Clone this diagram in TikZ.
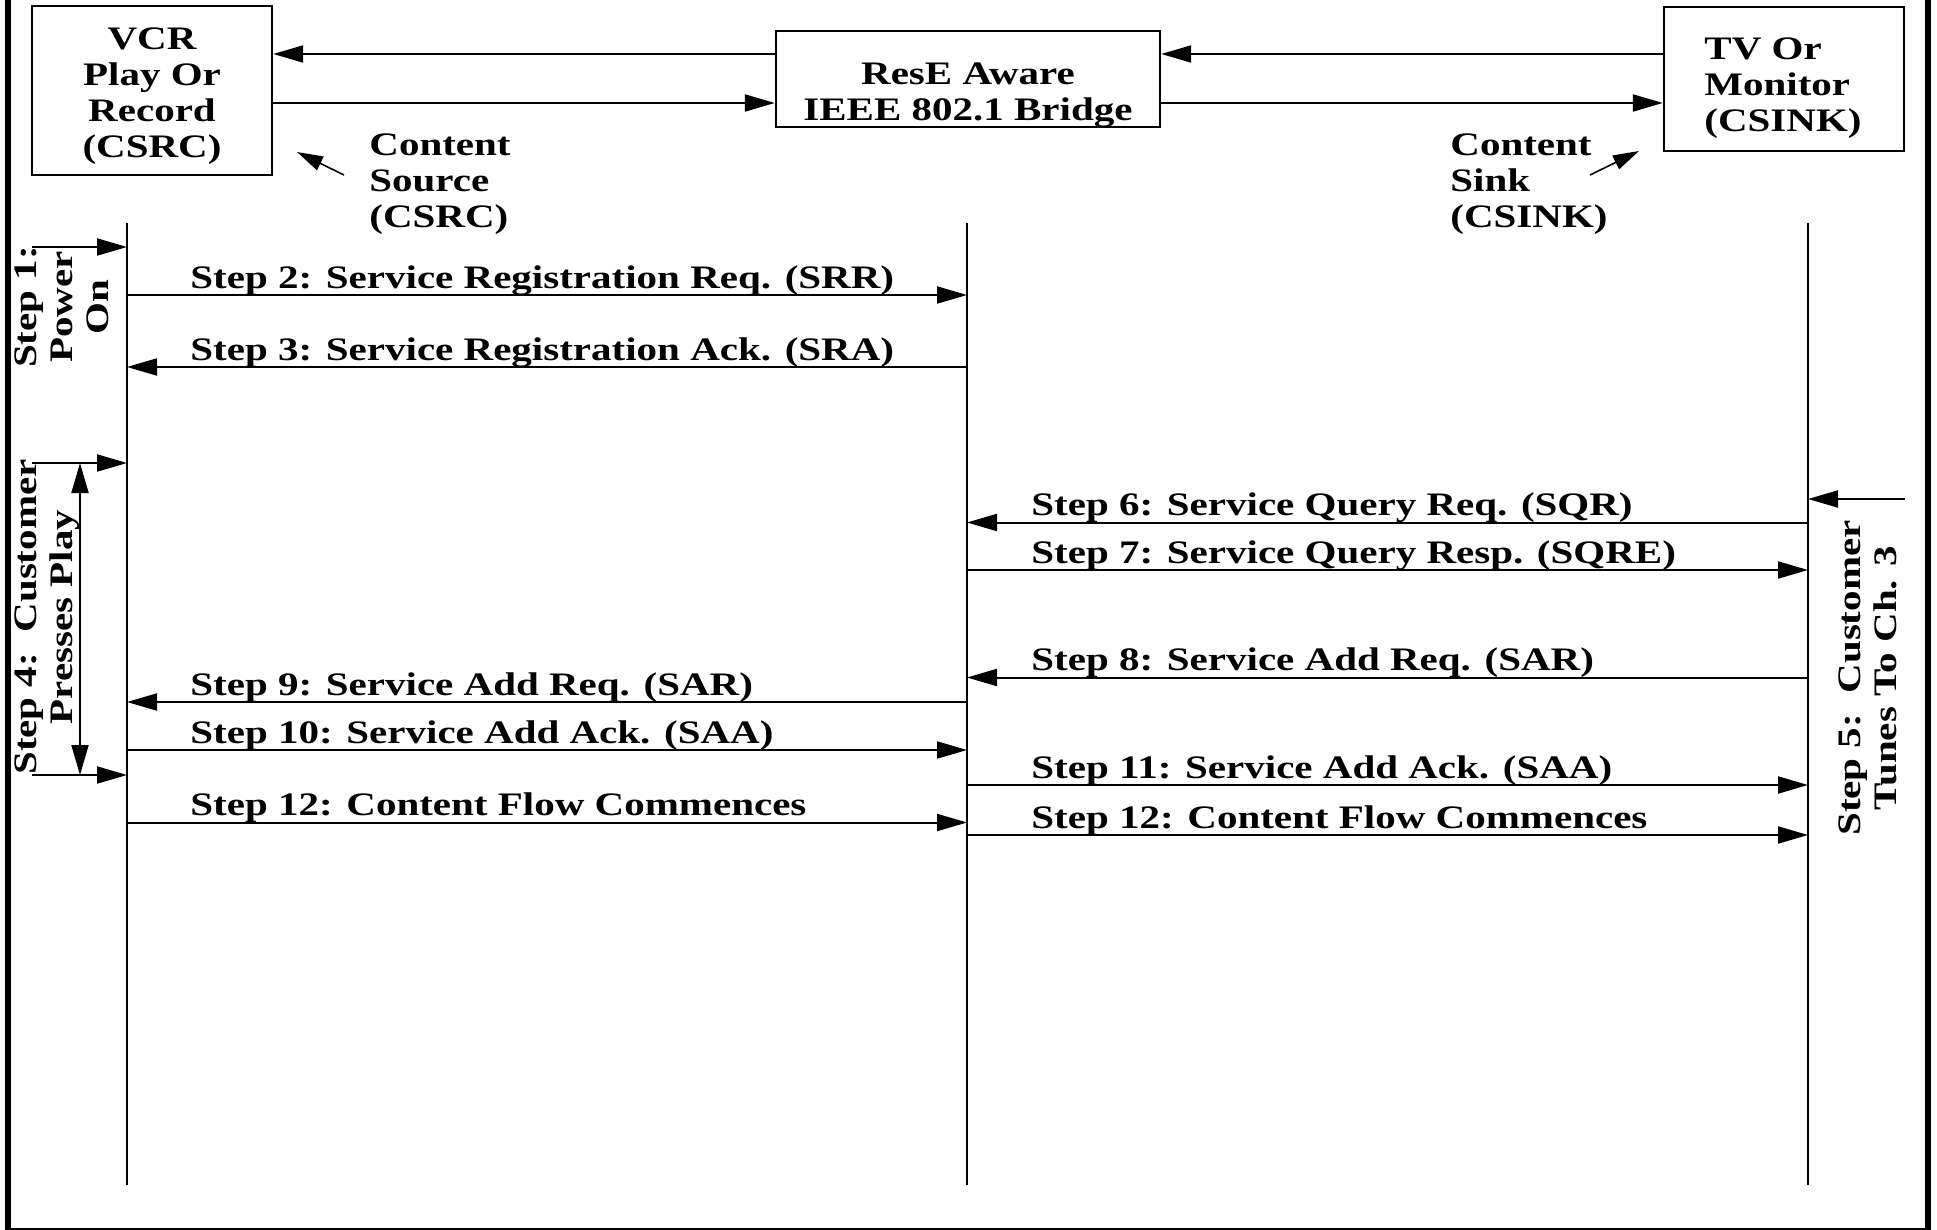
\documentclass[tikz,border=0pt]{standalone}
\usepackage{fontspec}
\setmainfont{Liberation Serif}[FakeStretch=1.25]
\usetikzlibrary{arrows.meta}

\begin{document}
\begin{tikzpicture}[x=0.5pt,y=-0.5pt,>={Triangle[length=15pt,width=8.5pt]}]
			\tikzstyle{every node}+=[inner sep=0pt,font=\fontsize{16.4pt}{18pt}\selectfont\bfseries]
			\tikzstyle{box}=[draw=black,line width=1.2pt]
			\tikzstyle{msg}=[black,line width=1pt,->]
			\tikzstyle{life}=[black,line width=0.8pt]
			\tikzstyle{hint}=[black,line width=0.8pt,-{Triangle[length=13pt,width=7.5pt]}]
			\tikzstyle{note}=[align=left,anchor=west]
			\tikzstyle{stepl}=[anchor=base west]
			\tikzstyle{turned}=[rotate=90,align=center]
			\useasboundingbox (0,0) rectangle (1937,1230);
			\draw [black,line width=3pt] (8,0) -- (8,1228.5);
			\draw [black,line width=3pt] (1928,0) -- (1928,1228.5);
			\draw [black,line width=1pt] (5,1228.5) -- (1931,1228.5);
			\node [box,minimum width=120pt,minimum height=84.5pt] (vcr) at (152,90.5) {};
			\node [align=center] (vcrtext) at (152,96) {VCR\\Play Or\\Record\\(CSRC)};
			\node [box,minimum width=192pt,minimum height=48pt] (bridge) at (968,79) {};
			\node [align=center] (bridgetext) at (968,95) {ResE Aware\\IEEE 802.1 Bridge};
			\node [box,minimum width=120pt,minimum height=72pt] (tv) at (1784,79) {};
			\node [align=left,anchor=west] (tvtext) at (1704,88) {TV Or\\Monitor\\(CSINK)};
			\coordinate (ya) at (0,54);
			\coordinate (yb) at (0,103);
			\draw [msg] (bridge.west |- ya) -- (vcr.east |- ya);
			\draw [msg] (vcr.east |- yb) -- (bridge.west |- yb);
			\draw [msg] (tv.west |- ya) -- (bridge.east |- ya);
			\draw [msg] (bridge.east |- yb) -- (tv.west |- yb);
			\node [note] (srcnote) at (369,184) {Content\\Source\\(CSRC)};
			\node [note] (snknote) at (1450,184) {Content\\Sink\\(CSINK)};
			\coordinate (srchint) at (344,175);
			\coordinate (srcpoint) at (297,152);
			\coordinate (snkhint) at (1590,175);
			\coordinate (snkpoint) at (1639,151);
			\draw [hint] (srchint) -- (srcpoint);
			\draw [hint] (snkhint) -- (snkpoint);
			\coordinate (srcT) at (127,223);
			\coordinate (srcB) at (127,1185);
			\coordinate (brT) at (967,223);
			\coordinate (brB) at (967,1185);
			\coordinate (snkT) at (1808,223);
			\coordinate (snkB) at (1808,1185);
			\draw [life] (srcT) -- (srcB);
			\draw [life] (brT) -- (brB);
			\draw [life] (snkT) -- (snkB);
			\coordinate (m1) at (32,247);
			\draw [msg] (m1) -- (srcT |- m1);
			\node [turned] (t1) at (62,307) {Step 1:\\Power\\On};
			\coordinate (m2) at (0,295);
			\draw [msg] (srcT |- m2) -- (brT |- m2);
			\node [stepl] (t2) at (190,288) {Step 2: Service Registration Req. (SRR)};
			\coordinate (m3) at (0,367);
			\draw [msg] (brT |- m3) -- (srcT |- m3);
			\node [stepl] (t3) at (190,360) {Step 3: Service Registration Ack. (SRA)};
			\coordinate (m4a) at (32,463);
			\coordinate (m4b) at (32,775);
			\draw [msg] (m4a) -- (srcT |- m4a);
			\draw [msg] (m4b) -- (srcT |- m4b);
			\coordinate (d4a) at (80,463);
			\coordinate (d4b) at (80,775);
			\draw [msg,<->] (d4a) -- (d4b);
			\node [turned] (t4) at (47,617) {Step 4:\ \ Customer\\Presses Play};
			\coordinate (m5) at (1905,499);
			\draw [msg] (m5) -- (snkT |- m5);
			\node [turned] (t5) at (1868,678) {Step 5:\ \ Customer\\Tunes To Ch. 3};
			\coordinate (m6) at (0,522.5);
			\draw [msg] (snkT |- m6) -- (brT |- m6);
			\node [stepl] (t6) at (1031,515.5) {Step 6: Service Query Req. (SQR)};
			\coordinate (m7) at (0,570);
			\draw [msg] (brT |- m7) -- (snkT |- m7);
			\node [stepl] (t7) at (1031,563) {Step 7: Service Query Resp. (SQRE)};
			\coordinate (m8) at (0,677.5);
			\draw [msg] (snkT |- m8) -- (brT |- m8);
			\node [stepl] (t8) at (1031,670.5) {Step 8: Service Add Req. (SAR)};
			\coordinate (m9) at (0,702);
			\draw [msg] (brT |- m9) -- (srcT |- m9);
			\node [stepl] (t9) at (190,695) {Step 9: Service Add Req. (SAR)};
			\coordinate (m10) at (0,750);
			\draw [msg] (srcT |- m10) -- (brT |- m10);
			\node [stepl] (t10) at (190,743) {Step 10: Service Add Ack. (SAA)};
			\coordinate (m11) at (0,785);
			\draw [msg] (brT |- m11) -- (snkT |- m11);
			\node [stepl] (t11) at (1031,778) {Step 11: Service Add Ack. (SAA)};
			\coordinate (m12a) at (0,822.5);
			\draw [msg] (srcT |- m12a) -- (brT |- m12a);
			\node [stepl] (t12a) at (190,815.5) {Step 12: Content Flow Commences};
			\coordinate (m12b) at (0,835);
			\draw [msg] (brT |- m12b) -- (snkT |- m12b);
			\node [stepl] (t12b) at (1031,828) {Step 12: Content Flow Commences};
\end{tikzpicture}
\end{document}
